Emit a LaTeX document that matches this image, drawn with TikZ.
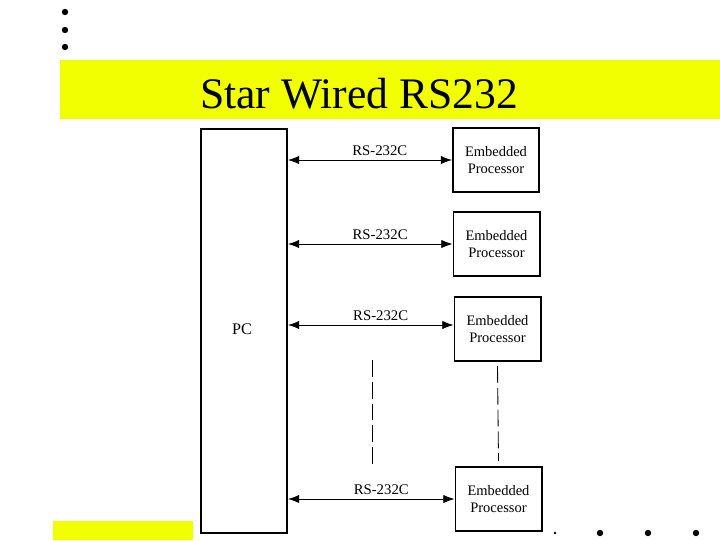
\documentclass[tikz,border=0pt]{standalone}
\usepackage{fontspec}
\setmainfont{Liberation Serif}
\usepackage{tikz}
\usetikzlibrary{arrows.meta, positioning, calc}
\usepackage{xcolor}
\definecolor{bandyellow}{RGB}{242,255,0}
\tikzset{
    procbox/.style = {rectangle, minimum width=2.15cm, minimum height=1.6cm, align=center, draw=black, line width=1.4pt, inner sep=1pt, font=\fontsize{10.3}{12.3}\selectfont},
    pcbox/.style = {rectangle, minimum width=2.15cm, minimum height=10.1cm, draw=black, line width=1.4pt},
    link/.style = {line width=0.6pt, {Latex[length=2.8mm,width=2.1mm]}-{Latex[length=2.8mm,width=2.1mm]}},
    linklabel/.style = {font=\fontsize{10.5}{12}\selectfont, inner sep=2pt},
    gap/.style = {line width=0.6pt, dash pattern=on 12pt off 3.5pt},
    dot/.style = {circle, fill=black, inner sep=0pt, minimum size=0.16cm}
}

\begin{document}
\begin{tikzpicture}[x=0.025cm, y=-0.025cm]

\useasboundingbox (0,0) rectangle (720,540);

% ---- bands and bullets ----
\fill[bandyellow] (60,60) rectangle (720,119);
\fill[bandyellow] (53,521) rectangle (193,540);
\node[anchor=base west, font=\fontsize{31}{36}\selectfont, inner sep=0pt] (title) at (200,108) {Star Wired RS232};

\foreach \y in {12,30,47} \node[dot] at (65,\y) {};
\node[dot, minimum size=0.07cm] at (555,533) {};
\foreach \x in {600,648,696} \node[dot] at (\x,533) {};

% ---- PC (left) ----
\node[pcbox] (pc) at (244,331) {};
\node[font=\fontsize{11.5}{13}\selectfont] (pclabel) at (242,329) {PC};

% ---- Embedded processors (right) ----
\node[procbox] (emb1) at (496,160) {Embedded\\Processor};
\node[procbox] (emb2) at (496.5,244) {Embedded\\Processor};
\node[procbox] (emb3) at (497.5,329) {Embedded\\Processor};
\node[procbox] (emb4) at (498.5,499) {Embedded\\Processor};

% ---- Links ----
\draw[link] (pc.east |- emb1.west) -- (emb1.west) node[linklabel, pos=0.56, above=1pt] {RS-232C};
\draw[link] (pc.east |- emb2.west) -- (emb2.west) node[linklabel, pos=0.56, above=1pt] {RS-232C};
\draw[link] ($(pc.east |- emb3.west)+(0,-4)$) -- ($(emb3.west)+(0,-4)$) node[linklabel, pos=0.56, above=1pt] {RS-232C};
\draw[link] (pc.east |- emb4.west) -- (emb4.west) node[linklabel, pos=0.56, above=1pt] {RS-232C};

% ---- dashed continuation ----
\coordinate (linktop) at (372,360);
\coordinate (linkbot) at (372,465);
\draw[gap] (linktop) -- (linkbot);
\draw[gap] ($(emb3.south)+(0,4)$) -- ($(emb4.north)+(0,-5)$);

\end{tikzpicture}
\end{document}
